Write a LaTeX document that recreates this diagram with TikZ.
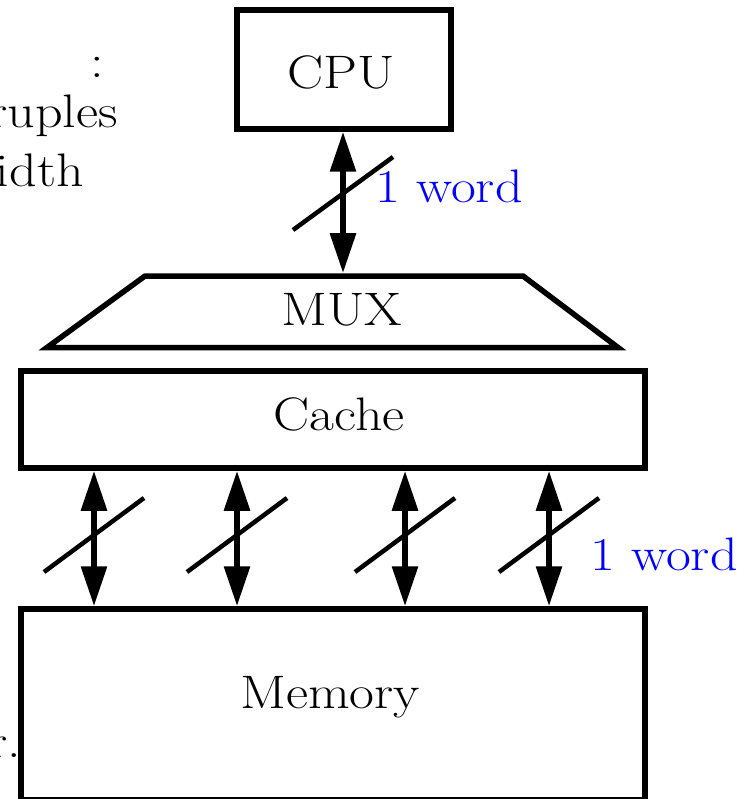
\documentclass[tikz,border=0pt]{standalone}
\usetikzlibrary{arrows.meta,calc}
\newcommand{\stretchtxt}[1]{\scalebox{1.15}[1]{#1}}
\begin{document}
\begin{tikzpicture}[x=1pt,y=-1pt,
  box/.style={draw,line width=5.5pt,inner sep=0pt},
  lbl/.style={inner sep=0pt,font=\fontsize{47}{56}\selectfont},
  wordlbl/.style={lbl,text=blue,anchor=base west},
  bus/.style={line width=6pt,{Triangle[length=40pt,width=25pt]}-{Triangle[length=40pt,width=25pt]}},
  slash/.style={line width=4.5pt}]
\useasboundingbox (0,0) rectangle (749,799);
% boxes
\node[box,minimum width=214pt,minimum height=119pt] (cpu) at (344,69.5) {};
\node[box,minimum width=624pt,minimum height=97pt] (cache) at (333,419.5) {};
\node[box,minimum width=624pt,minimum height=191pt] (memory) at (333,704.5) {};
\draw[line width=5.5pt,line join=miter] (47,347.5) -- (145,276) -- (523,276) -- (618,347.5) -- cycle;
\coordinate (muxtop) at (343,273.2);
% labels
\node[lbl,anchor=base] (cputxt) at (341.5,89) {\stretchtxt{CPU}};
\node[lbl,anchor=base] (muxtxt) at (341.5,325) {\stretchtxt{MUX}};
\node[lbl,anchor=base] (cachetxt) at (339,430) {\stretchtxt{Cache}};
\node[lbl,anchor=base] (memtxt) at (330,708) {\stretchtxt{Memory}};
\node[wordlbl] (w1) at (375,203) {\stretchtxt{1 word}};
\node[wordlbl] (w2) at (590,570) {\stretchtxt{1 word}};
% cut-off text fragments at the left edge
\node[lbl,anchor=base east] (frag1) at (104,78) {\stretchtxt{:}};
\node[lbl,anchor=base east] (frag2) at (118,128) {\stretchtxt{ruples}};
\node[lbl,anchor=base east] (frag3) at (84,187) {\stretchtxt{idth}};
\node[lbl,anchor=base east] (frag4) at (21,757) {\stretchtxt{r.}};
% CPU <-> MUX
\draw[bus] (cpu.south -| muxtop) -- (muxtop);
\coordinate (s0) at (343,193.5);
\draw[slash] ($(s0)+(-50,36.5)$) -- ($(s0)+(50,-36.5)$);
% Cache <-> Memory
\foreach \i/\x in {1/94,2/237,3/405,4/549}{
  \coordinate (x\i) at (\x,0);
  \draw[bus] (x\i |- cache.south) -- (x\i |- memory.north);
  \coordinate (m\i) at (\x,535);
  \draw[slash] ($(m\i)+(-50,37)$) -- ($(m\i)+(50,-37)$);
}
\end{tikzpicture}
\end{document}
